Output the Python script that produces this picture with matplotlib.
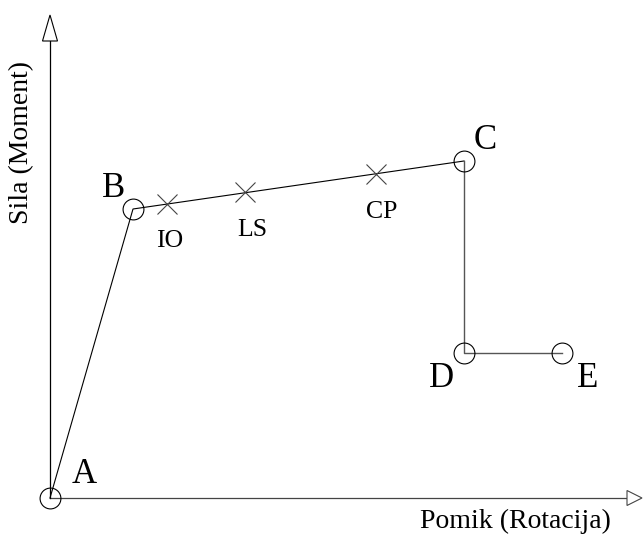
import matplotlib.pyplot as plt
from matplotlib.patches import Polygon

plt.rcParams['font.family'] = ['Liberation Serif', 'DejaVu Serif']

# backbone curve points (A..E)
pt_names = ["A", "B", "C", "D", "E"]
pt_x     = [0, 83, 414, 414, 512]
pt_y     = [0, 289, 337, 145, 145]

# performance levels on B-C branch
lvl_names = ["IO", "LS", "CP"]
lvl_x     = [117, 195, 326]
lvl_y     = [294, 306, 324]

# label positions (baseline)
pt_lab_x  = [34, 64, 435, 391, 538]
pt_lab_y  = [15, 301, 349, 111, 111]
lvl_lab_x = [120, 202, 332]
lvl_lab_y = [251, 262, 280]

xmax = 577   # horizontal axis end (arrow base)
ymax = 457   # vertical axis end (arrow base)

fig = plt.figure(figsize=(6.43, 5.36), dpi=100)
ax = fig.add_axes([0, 0, 1, 1])
ax.set_xlim(-50, 593)
ax.set_ylim(-38, 498)
ax.axis("off")

# axes with open arrow heads
ax.plot([0, xmax], [0, 0], color="#444444", lw=0.9, zorder=1)
ax.plot([0, 0], [0, ymax], color="black", lw=0.9, zorder=1)
ax.add_patch(Polygon([(xmax, -7.5), (xmax, 7.5), (xmax + 15, 0)], closed=True,
                     fc="white", ec="#444444", lw=0.8))
ax.add_patch(Polygon([(-7.5, ymax), (7.5, ymax), (0, ymax + 26)], closed=True,
                     fc="white", ec="black", lw=0.8))

# backbone
ax.plot(pt_x[:3], pt_y[:3], color="black", lw=0.8, zorder=2)
ax.plot(pt_x[2:], pt_y[2:], color="#555555", lw=1.0, zorder=2)
ax.plot(pt_x, pt_y, linestyle="none", marker="o", ms=15, mfc="none",
        mec="black", mew=0.8, zorder=3)
ax.plot(lvl_x, lvl_y, linestyle="none", marker="x", ms=15,
        mec="#444444", mew=0.8, zorder=3)

for name, x, y in zip(pt_names, pt_lab_x, pt_lab_y):
    ax.text(x, y, name, fontsize=25, ha="center", va="baseline")
for name, x, y in zip(lvl_names, lvl_lab_x, lvl_lab_y):
    ax.text(x, y, name, fontsize=18.5, ha="center", va="baseline")

ax.text(465, -30, "Pomik (Rotacija)", fontsize=20, ha="center", va="baseline")
ax.text(-28, 355, "Sila (Moment)", fontsize=20, ha="center", va="center",
        rotation=90)

fig.savefig("out.png", dpi=100)
